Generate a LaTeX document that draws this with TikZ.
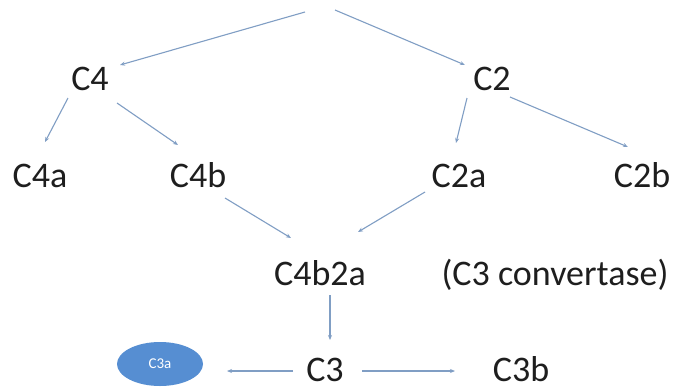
\documentclass[tikz,border=0pt]{standalone}
\usepackage{fontspec}
\setmainfont{Carlito}
\usetikzlibrary{arrows.meta,shapes.geometric}
\definecolor{arrc}{RGB}{128,158,196}
\definecolor{txt}{RGB}{30,30,30}
\definecolor{ellc}{RGB}{86,142,210}
\begin{document}
\begin{tikzpicture}[x=1pt,y=-1pt,
  lbl/.style={anchor=base,inner sep=0pt,text=txt,font=\fontsize{36}{40}\selectfont},
  arr/.style={draw=arrc,line width=1.1pt,-{Stealth[length=5pt,width=4pt]}}]
\useasboundingbox[fill=white] (0,0) rectangle (677,389);
\coordinate (top) at (320,0);
\node[lbl] (C4) at (90,90) {C4};
\node[lbl] (C2) at (492,90) {C2};
\node[lbl] (C4a) at (40,187) {C4a};
\node[lbl] (C4b) at (198,187) {C4b};
\node[lbl] (C2a) at (459,187) {C2a};
\node[lbl] (C2b) at (642,187) {C2b};
\node[lbl] (C4b2a) at (320,285) {C4b2a};
\node[lbl] (conv) at (555,285) {(C3 convertase)};
\node[lbl] (C3) at (325,381) {C3};
\node[lbl] (C3b) at (521,381) {C3b};
\node[ellipse,fill=ellc,minimum width=86pt,minimum height=44pt,inner sep=0pt,text=white,font=\fontsize{15}{17}\selectfont] (C3a) at (160,364) {C3a};
\draw[arr] ([shift={(-15,12)}]top) -- ([shift={(30,-25)}]C4.base);
\draw[arr] ([shift={(15,10)}]top) -- ([shift={(-27,-25)}]C2.base);
\draw[arr] ([shift={(-22,8)}]C4.base) -- ([shift={(5,-45)}]C4a.base);
\draw[arr] ([shift={(27,13)}]C4.base) -- ([shift={(-20,-42)}]C4b.base);
\draw[arr] ([shift={(-25,8)}]C2.base) -- ([shift={(-3,-44)}]C2a.base);
\draw[arr] ([shift={(18,7)}]C2.base) -- ([shift={(-14,-40)}]C2b.base);
\draw[arr] ([shift={(27,11)}]C4b.base) -- ([shift={(-29,-47)}]C4b2a.base);
\draw[arr] ([shift={(-34,5)}]C2a.base) -- ([shift={(38,-53)}]C4b2a.base);
\draw[arr] ([shift={(10,10)}]C4b2a.base) -- ([shift={(5,-41)}]C3.base);
\draw[arr] ([shift={(-32,-10)}]C3.base) -- ([shift={(67,7)}]C3a.center);
\draw[arr] ([shift={(37,-10)}]C3.base) -- ([shift={(-66,-10)}]C3b.base);
\end{tikzpicture}
\end{document}
